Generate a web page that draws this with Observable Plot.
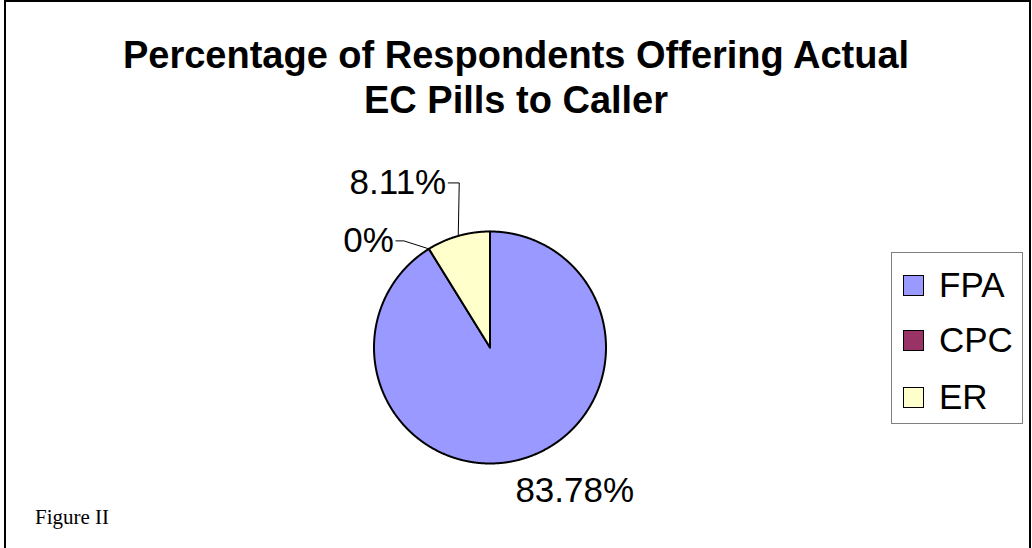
<!DOCTYPE html>
<html><head><meta charset="utf-8">
<script src="https://cdn.jsdelivr.net/npm/d3@7"></script>
<script src="https://cdn.jsdelivr.net/npm/@observablehq/plot@0.6"></script>
<style>
body{margin:0;background:#fff;}
#wrap{position:relative;width:1032px;height:548px;overflow:hidden;font-family:"Liberation Sans",Arial,sans-serif;background:#fff;}
#frame{position:absolute;left:4px;top:0;width:1023px;height:600px;border:2px solid #000;border-bottom:none;}
#title{position:absolute;left:0;width:1032px;top:33px;text-align:center;font-weight:bold;font-size:38px;line-height:45px;color:#000;}
#chart{position:absolute;left:0;top:0;}
#legend{position:absolute;left:891px;top:252px;width:132px;height:172px;border:1px solid #808080;box-sizing:border-box;background:#fff;}
.item{position:absolute;left:11px;height:40px;display:flex;align-items:center;font-size:35px;color:#000;}
.sw{width:19px;height:19px;border:1px solid #000;margin-right:15px;}
#caption{position:absolute;left:35px;top:505px;font-family:"Liberation Serif","Times New Roman",serif;font-size:21px;color:#000;}
</style></head>
<body>
<div id="wrap">
  <div id="frame"></div>
  <div id="title">Percentage of Respondents Offering Actual<br>EC Pills to Caller</div>
  <div id="chart"></div>
  <div id="legend"></div>
  <div id="caption">Figure II</div>
</div>
<script>
const categories = ["FPA", "CPC", "ER"];
const values = [83.78, 0, 8.11];
const colors = ["#9999FF", "#993366", "#FFFFCC"];
const labels = values.map(v => v + "%");

// layout
const W = 1032, H = 548, cx = 489.5, cy = 347, R = 116;
const u = 1 / R; // px -> data units

const arcs = d3.pie().sort(null).value(d => d.value)(
  categories.map((c, i) => ({category: c, value: values[i], label: labels[i]}))
);

const pt = (a, r = 1) => [r * Math.sin(a), r * Math.cos(a)];

const slicePts = [];
for (const s of arcs) {
  if (s.endAngle - s.startAngle <= 0) continue;
  const n = Math.max(2, Math.ceil((s.endAngle - s.startAngle) / 0.005));
  slicePts.push({category: s.data.category, x: 0, y: 0});
  for (let k = 0; k <= n; k++) {
    const a = s.startAngle + (s.endAngle - s.startAngle) * k / n;
    const [x, y] = pt(a);
    slicePts.push({category: s.data.category, x, y});
  }
}

// label placement: FPA radial, others with leader lines (offsets in px)
const leaderOffsets = {
  CPC: [[-25, 8], [-33, 8]],
  ER: [[1, 53], [-10, 53]]
};
const labelPts = [];
const leaderPts = [];
for (const s of arcs) {
  const mid = (s.startAngle + s.endAngle) / 2;
  const [ex, ey] = pt(mid);
  const c = s.data.category;
  if (leaderOffsets[c]) {
    const path = [[ex, ey], ...leaderOffsets[c].map(([dx, dy]) => [ex + dx * u, ey + dy * u])];
    path.forEach(([x, y]) => leaderPts.push({category: c, x, y}));
    const [lx, ly] = path[path.length - 1];
    labelPts.push({category: c, label: s.data.label, x: lx - 2 * u, y: ly, anchor: "end"});
  } else {
    labelPts.push({category: c, label: s.data.label, x: ex + 53 * u, y: ey - 32 * u, anchor: "middle"});
  }
}

const chart = Plot.plot({
  width: W, height: H,
  marginLeft: cx - R, marginRight: W - (cx + R),
  marginTop: cy - R, marginBottom: H - (cy + R),
  x: {domain: [-1, 1], axis: null},
  y: {domain: [-1, 1], axis: null},
  color: {domain: categories, range: colors},
  style: {background: "transparent", overflow: "visible", fontFamily: "Liberation Sans, Arial, sans-serif"},
  marks: [
    Plot.line(slicePts, {x: "x", y: "y", z: "category", fill: "category", stroke: "#000", strokeWidth: 2, curve: "linear-closed", strokeLinejoin: "round"}),
    Plot.line(leaderPts, {x: "x", y: "y", z: "category", stroke: "#000", strokeWidth: 1}),
    Plot.text(labelPts.filter(d => d.anchor === "end"), {x: "x", y: "y", text: "label", textAnchor: "end", fontSize: 35, fill: "#000"}),
    Plot.text(labelPts.filter(d => d.anchor === "middle"), {x: "x", y: "y", text: "label", textAnchor: "middle", fontSize: 35, fill: "#000"})
  ]
});
document.getElementById("chart").appendChild(chart);

// legend
const legend = document.getElementById("legend");
const rowTops = [12, 67, 124];
categories.forEach((c, i) => {
  const d = document.createElement("div");
  d.className = "item";
  d.style.top = rowTops[i] + "px";
  d.innerHTML = `<div class="sw" style="background:${colors[i]}"></div><span>${c}</span>`;
  legend.appendChild(d);
});
</script>
</body></html>
